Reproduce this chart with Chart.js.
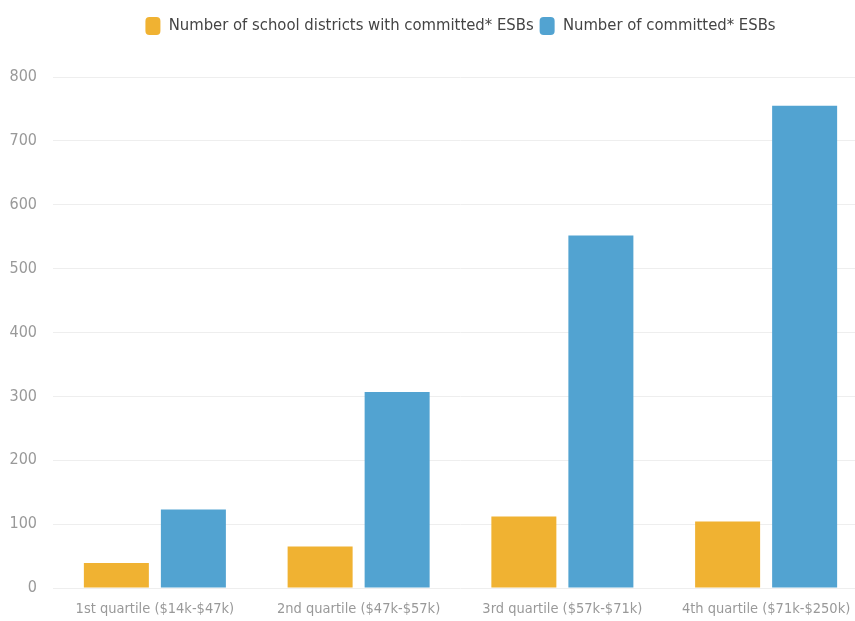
<!DOCTYPE html>
<html>
<head>
<meta charset="utf-8">
<script src="https://cdn.jsdelivr.net/npm/chart.js@4"></script>
<style>
html,body{margin:0;padding:0;background:#fff;overflow:hidden;}
#wrap{width:868px;height:621px;position:relative;}
</style>
</head>
<body>
<div id="wrap"><canvas id="c" width="868" height="621"></canvas></div>
<script>
const categories = ["1st quartile ($14k-$47k)", "2nd quartile ($47k-$57k)", "3rd quartile ($57k-$71k)", "4th quartile ($71k-$250k)"];
const districtsWithESBs = [39, 65, 112, 104];
const committedESBs = [123, 307, 552, 755];
const seriesNames = ["Number of school districts with committed* ESBs", "Number of committed* ESBs"];
const yTicks = [0, 100, 200, 300, 400, 500, 600, 700, 800];

const FONT = "'Liberation Sans Narrow', 'Arial Narrow', 'DejaVu Sans Condensed', 'Roboto', sans-serif";

const legendGap = {
  id: 'legendGap',
  beforeInit(chart) {
    const origFit = chart.legend.fit;
    chart.legend.fit = function () {
      origFit.call(this);
      this.height += 32;
    };
  }
};

new Chart(document.getElementById('c'), {
  type: 'bar',
  data: {
    labels: categories,
    datasets: [
      { label: seriesNames[0], data: districtsWithESBs, backgroundColor: '#F0B232' },
      { label: seriesNames[1], data: committedESBs, backgroundColor: '#52A3D1' }
    ]
  },
  options: {
    responsive: false,
    animation: false,
    layout: { padding: { left: 0, right: 0, top: 11, bottom: 0 } },
    datasets: { bar: { categoryPercentage: 0.756, barPercentage: 0.844 } },
    plugins: {
      legend: {
        position: 'top',
        fullSize: false,
        labels: {
          boxWidth: 15, boxHeight: 18, useBorderRadius: true, borderRadius: 4,
          padding: 6, color: '#444',
          font: { family: FONT, size: 16.5 }
        }
      },
      tooltip: { enabled: false }
    },
    scales: {
      x: {
        grid: { display: false, drawTicks: false },
        border: { display: false },
        ticks: { color: '#999', maxRotation: 0, autoSkip: false, font: { family: FONT, size: 14.5 }, padding: 13 },
        afterFit: (axis) => { axis.height = 33; }
      },
      y: {
        min: 0, max: 800,
        afterBuildTicks: (axis) => { axis.ticks = yTicks.map(v => ({ value: v })); },
        grid: { color: '#eeeeee', drawTicks: false },
        border: { display: false },
        ticks: { color: '#999', font: { family: FONT, size: 16 }, padding: 16 },
        afterFit: (axis) => { axis.width = 53; }
      }
    }
  },
  plugins: [legendGap]
});
</script>
</body>
</html>
